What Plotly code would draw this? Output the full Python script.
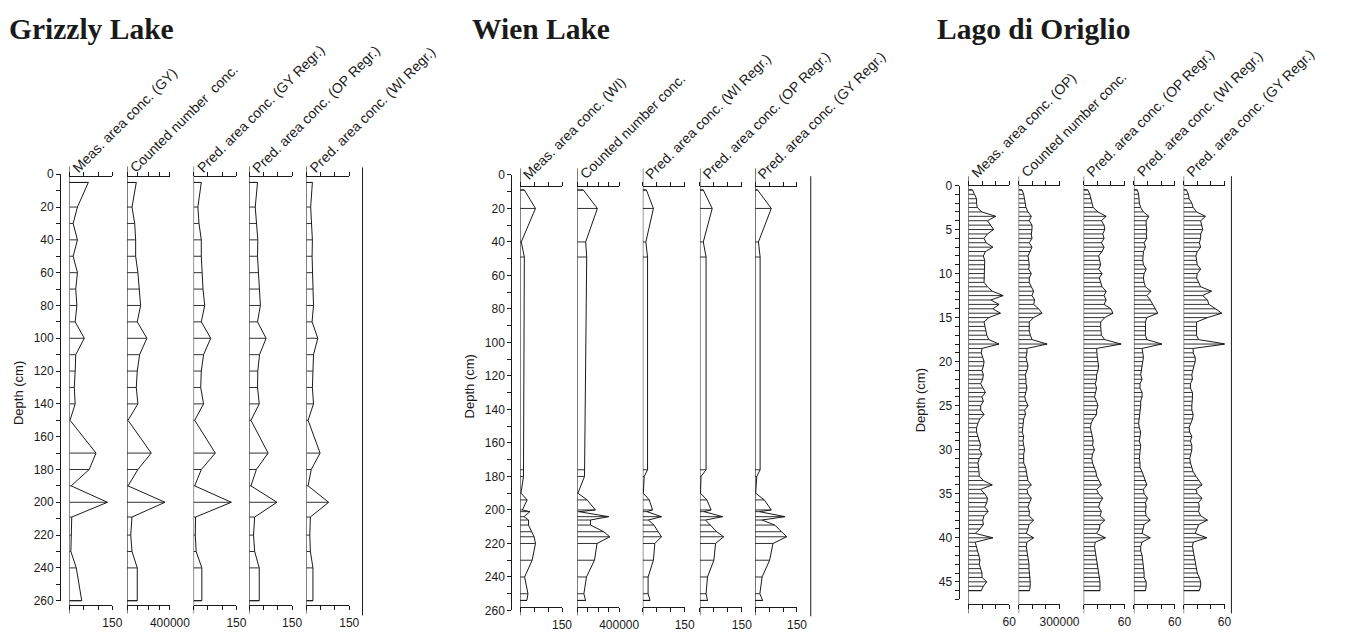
import plotly.graph_objects as go

W, H = 1345, 639
INK = "#1a1a1a"
SANS = "Liberation Sans, Arial, Helvetica, sans-serif"
SERIF = "Liberation Serif, Times New Roman, serif"

# ---------------- Grizzly Lake data ----------------
gy_depth = [5, 20, 30, 40, 50, 60, 70, 80, 90, 100, 110, 120, 130, 140, 150,
            170, 180, 190, 200, 209, 220, 230, 240, 260]
gy_meas = [66, 28, 13, 28, 13, 28, 22, 26, 20, 52, 22, 20, 17, 20, 2,
           93, 69, 6, 133, 8, 6, 5, 24, 43]
gy_counted = [86000, 46000, 71000, 80000, 80000, 101000, 117000, 126000, 95000, 185000,
              117000, 95000, 86000, 101000, 9000, 225000, 101000, 9000, 354000, 46000,
              34000, 46000, 95000, 95000]
gy_pred_gy = [27, 15, 19, 27, 27, 30, 33, 39, 27, 60, 35, 27, 25, 35, 4,
              76, 27, 4, 132, 7, 6, 9, 29, 29]
gy_pred_op = [29, 21, 25, 30, 29, 33, 35, 39, 29, 59, 36, 30, 29, 35, 6,
              66, 25, 6, 97, 19, 15, 19, 35, 35]
gy_pred_wi = [21, 15, 17, 21, 20, 21, 23, 25, 20, 40, 25, 23, 21, 25, 6,
              48, 17, 6, 78, 14, 12, 14, 23, 23]
gy_labels = ["Meas. area conc. (GY)", "Counted number  conc.", "Pred. area conc. (GY Regr.)",
             "Pred. area conc. (OP Regr.)", "Pred. area conc. (WI Regr.)"]
gy_max = [150, 400000, 150, 150, 150]
gy_max_text = ["150", "400000", "150", "150", "150"]

# ---------------- Wien Lake data ----------------
wi_depth = [9, 20, 40, 49, 176, 180, 190, 194, 200, 201, 204, 206, 209, 213, 216,
            220, 230, 240, 250, 254]
wi_meas = [15, 55, 4, 15, 10, 12, 3, 25, 8, 35, 14, 30, 30, 42, 50, 55, 43, 16, 28, 24]
wi_counted = [58000, 192000, 80000, 90000, 72000, 69000, 6000, 94000, 173000, 16000,
              299000, 126000, 126000, 252000, 310000, 189000, 164000, 88000, 63000, 79000]
wi_pred_wi = [13, 38, 11, 17, 17, 5, 2, 23, 35, 15, 67, 20, 40, 55, 67, 43, 38, 19, 19, 26]
wi_pred_op = [12, 44, 12, 22, 22, 4, 2, 25, 40, 15, 81, 20, 38, 60, 85, 56, 50, 27, 22, 27]
wi_pred_gy = [9, 58, 12, 18, 18, 6, 2, 33, 58, 15, 107, 25, 70, 95, 113, 64, 52, 25, 17, 27]
wi_labels = ["Meas. area conc. (WI)", "Counted number conc.", "Pred. area conc. (WI Regr.)",
             "Pred. area conc. (OP Regr.)", "Pred. area conc. (GY Regr.)"]
wi_max = [150, 400000, 150, 150, 150]
wi_max_text = ["150", "400000", "150", "150", "150"]

# ---------------- Lago di Origlio data ----------------
op_depth = [0.5, 1.0, 1.5, 2.0, 2.5, 3.0, 3.5, 4.0, 4.5, 5.0,
            5.5, 6.0, 6.5, 7.0, 7.5, 8.0, 8.5, 9.0, 9.5, 10.0,
            10.5, 11.0, 11.5, 12.0, 12.5, 13.0, 13.5, 14.0, 14.5, 15.0,
            15.5, 16.0, 16.5, 17.0, 17.5, 18.0, 18.5, 19.0, 19.5, 20.0,
            20.5, 21.0, 21.5, 22.0, 22.5, 23.0, 23.5, 24.0, 24.5, 25.0,
            25.5, 26.0, 26.5, 27.0, 27.5, 28.0, 28.5, 29.0, 29.5, 30.0,
            30.5, 31.0, 31.5, 32.0, 32.5, 33.0, 33.5, 34.0, 34.5, 35.0,
            35.5, 36.0, 36.5, 37.0, 37.5, 38.0, 38.5, 39.0, 39.5, 40.0,
            40.5, 41.0, 41.5, 42.0, 42.5, 43.0, 43.5, 44.0, 44.5, 45.0,
            45.5, 46.0]
op_meas = [6, 9, 12, 12, 13, 20, 40, 28, 33, 37,
           28, 23, 26, 36, 25, 22, 24, 24, 23, 23,
           24, 23, 28, 35, 51, 33, 45, 36, 47, 30,
           23, 24, 25, 27, 30, 45, 20, 19, 21, 23,
           22, 20, 22, 21, 18, 21, 25, 20, 22, 18,
           18, 23, 17, 14, 12, 12, 14, 17, 18, 16,
           20, 16, 14, 15, 15, 16, 22, 35, 18, 24,
           28, 27, 24, 29, 23, 21, 22, 17, 10, 36,
           10, 12, 13, 16, 17, 16, 18, 20, 20, 27,
           22, 19]
op_counted = [25000, 37000, 44000, 49000, 54000, 69000, 93000, 78000, 98000, 98000,
              93000, 98000, 78000, 98000, 86000, 69000, 74000, 78000, 74000, 93000,
              78000, 78000, 93000, 110000, 98000, 118000, 110000, 147000, 172000, 110000,
              78000, 78000, 78000, 86000, 98000, 209000, 61000, 61000, 54000, 61000,
              69000, 61000, 49000, 54000, 54000, 61000, 54000, 44000, 54000, 69000,
              44000, 51000, 37000, 32000, 27000, 27000, 37000, 32000, 37000, 44000,
              37000, 37000, 37000, 51000, 56000, 61000, 68000, 93000, 61000, 68000,
              93000, 80000, 68000, 80000, 76000, 110000, 76000, 68000, 56000, 110000,
              61000, 56000, 61000, 68000, 68000, 76000, 76000, 80000, 85000, 85000,
              85000, 80000]
op_pred_op = [6, 9, 11, 12, 14, 21, 33, 26, 30, 31,
              28, 30, 26, 30, 27, 22, 23, 25, 22, 27,
              23, 25, 27, 33, 30, 33, 30, 40, 43, 31,
              25, 25, 25, 26, 31, 55, 19, 19, 20, 21,
              22, 21, 19, 19, 17, 19, 17, 16, 19, 21,
              19, 19, 14, 11, 10, 11, 13, 14, 13, 16,
              13, 12, 13, 16, 18, 19, 22, 26, 19, 22,
              28, 24, 22, 26, 24, 31, 24, 23, 19, 32,
              17, 16, 17, 18, 19, 21, 21, 22, 23, 24,
              24, 24]
op_pred_wi = [5, 7, 7, 8, 10, 14, 22, 18, 18, 19,
              18, 19, 15, 17, 14, 13, 13, 14, 18, 15,
              14, 15, 17, 25, 19, 24, 28, 32, 35, 19,
              17, 17, 17, 17, 19, 41, 12, 13, 14, 13,
              12, 12, 10, 12, 9, 9, 12, 12, 10, 10,
              9, 8, 8, 7, 8, 10, 9, 8, 10, 9,
              8, 8, 9, 9, 12, 14, 17, 19, 14, 15,
              20, 17, 18, 17, 18, 24, 15, 14, 12, 24,
              12, 10, 10, 12, 13, 13, 14, 15, 15, 18,
              18, 17]
op_pred_gy = [4, 7, 8, 12, 14, 19, 32, 25, 27, 28,
              25, 25, 23, 25, 20, 18, 19, 20, 25, 20,
              19, 22, 25, 41, 28, 35, 37, 47, 56, 35,
              19, 19, 19, 19, 22, 62, 14, 14, 17, 17,
              15, 13, 12, 13, 10, 10, 13, 13, 12, 12,
              12, 14, 13, 10, 8, 9, 12, 10, 12, 12,
              10, 9, 10, 12, 14, 18, 22, 27, 18, 20,
              27, 22, 23, 22, 25, 35, 22, 19, 17, 34,
              14, 13, 14, 15, 17, 17, 19, 20, 23, 25,
              25, 23]
op_labels = ["Meas. area conc. (OP)", "Counted number conc.", "Pred. area conc. (OP Regr.)",
             "Pred. area conc. (WI Regr.)", "Pred. area conc. (GY Regr.)"]
op_max = [60, 300000, 60, 60, 60]
op_max_text = ["60", "300000", "60", "60", "60"]

# ---------------- layout geometry (pixels) ----------------
panels = [
    dict(title="Grizzly Lake", title_x=8, depth=gy_depth,
         cols=[gy_meas, gy_counted, gy_pred_gy, gy_pred_op, gy_pred_wi],
         labels=gy_labels, maxes=gy_max, max_text=gy_max_text, ndiv=[3, 4, 3, 3, 3],
         axis_x=61, d0_px=171, dref=260, dref_px=607, dmax=260, dtick=10, dlab=20,
         col_top=174, col_bot=611, base_top=163, base_bot=620, lab_y=175,
         col_x=[70.5, 129, 196.5, 253, 311], col_w=43.5,
         end_x=368, end_top=164, end_bot=622, ytitle=(19, 395)),
    dict(title="Wien Lake", title_x=478, depth=wi_depth,
         cols=[wi_meas, wi_counted, wi_pred_wi, wi_pred_op, wi_pred_gy],
         labels=wi_labels, maxes=wi_max, max_text=wi_max_text, ndiv=[3, 4, 3, 3, 3],
         axis_x=519, d0_px=171.7, dref=260, dref_px=617, dmax=260, dtick=10, dlab=20,
         col_top=184, col_bot=613, base_top=165, base_bot=622, lab_y=182,
         col_x=[528, 586, 652.5, 710.5, 766.5], col_w=42.5,
         end_x=823, end_top=173, end_bot=623, ytitle=(477, 388)),
    dict(title="Lago di Origlio", title_x=950, depth=op_depth,
         cols=[op_meas, op_counted, op_pred_op, op_pred_wi, op_pred_gy],
         labels=op_labels, maxes=op_max, max_text=op_max_text, ndiv=[3, 3, 3, 3, 3],
         axis_x=973, d0_px=182.5, dref=45, dref_px=587.7, dmax=47, dtick=1, dlab=5,
         col_top=183.3, col_bot=610, base_top=173, base_bot=620, lab_y=180,
         col_x=[983, 1034, 1100, 1151, 1201.5], col_w=41.5,
         end_x=1250, end_top=173, end_bot=620, ytitle=(934, 402)),
]


def px_x(px):
    return px / W


def px_y(py):
    return 1 - py / H


fig = go.Figure()
layout = dict(width=W, height=H, margin=dict(l=0, r=0, t=0, b=0),
              paper_bgcolor="white", plot_bgcolor="rgba(0,0,0,0)", showlegend=False)
shapes, annotations = [], []
xn = 0
yn = 0

for p in panels:
    scale = (p["dref_px"] - p["d0_px"]) / p["dref"]
    yn += 1
    yd = yn
    yn += 1
    yc = yn
    # depth axis
    ticks = []
    v = 0
    while v <= p["dmax"] + 1e-9:
        ticks.append(v)
        v += p["dtick"]
    tt = [str(int(t)) if t % p["dlab"] == 0 else "" for t in ticks]
    layout[f"yaxis{yd}"] = dict(
        domain=[px_y(p["d0_px"] + p["dmax"] * scale), px_y(p["d0_px"])],
        range=[p["dmax"], 0], anchor="free", position=px_x(p["axis_x"]),
        showline=True, linecolor=INK, linewidth=1, ticks="outside", ticklen=4,
        tickcolor=INK, tickvals=ticks, ticktext=tt, showgrid=False, zeroline=False,
        tickfont=dict(size=12, family=SANS, color=INK), fixedrange=True)
    # shared depth axis of the curve columns (same scale, hidden)
    d_top = (p["col_top"] - p["d0_px"]) / scale
    d_bot = (p["col_bot"] - p["d0_px"]) / scale
    layout[f"yaxis{yc}"] = dict(domain=[px_y(p["col_bot"]), px_y(p["col_top"])],
                                range=[d_bot, d_top], visible=False, showgrid=False,
                                zeroline=False, fixedrange=True)
    # hidden x axis that carries the depth-axis subplot
    xn += 1
    layout[f"xaxis{xn}"] = dict(domain=[px_x(p["axis_x"]), px_x(p["axis_x"] + 2)],
                                range=[0, 1], anchor=f"y{yd}", visible=False,
                                showgrid=False, zeroline=False, fixedrange=True)
    fig.add_trace(go.Scatter(x=[None], y=[None], xaxis=f"x{xn}", yaxis=f"y{yd}",
                             mode="lines", hoverinfo="skip"))
    for ci, vals in enumerate(p["cols"]):
        xn += 1
        vmax = p["maxes"][ci]
        nd = p["ndiv"][ci]
        tv = [vmax * k / nd for k in range(nd + 1)]
        tx = [""] * nd + [p["max_text"][ci]]
        bx = p["col_x"][ci]
        layout[f"xaxis{xn}"] = dict(
            domain=[px_x(bx), px_x(bx + p["col_w"])], range=[0, vmax], anchor=f"y{yc}",
            showline=True, linecolor=INK, linewidth=1, mirror="ticks",
            ticks="outside", ticklen=4, tickcolor=INK, tickvals=tv, ticktext=tx,
            showgrid=False, zeroline=False, ticklabelstandoff=3,
            tickfont=dict(size=12, family=SANS, color=INK), fixedrange=True)
        dep = p["depth"]
        # curve outline
        fig.add_trace(go.Scatter(
            x=[0] + list(vals) + [0], y=[dep[0]] + list(dep) + [dep[-1]],
            xaxis=f"x{xn}", yaxis=f"y{yc}", mode="lines",
            line=dict(color=INK, width=1), hoverinfo="skip"))
        # horizontal sample bars
        bxs, bys = [], []
        for d, val in zip(dep, vals):
            bxs += [0, val, None]
            bys += [d, d, None]
        fig.add_trace(go.Scatter(x=bxs, y=bys, xaxis=f"x{xn}", yaxis=f"y{yc}",
                                 mode="lines", line=dict(color=INK, width=0.9),
                                 hoverinfo="skip"))
        # column baseline (zero line extended beyond the axes)
        shapes.append(dict(type="line", xref=f"x{xn}", yref="paper", x0=0, x1=0,
                           y0=px_y(p["base_bot"]), y1=px_y(p["base_top"]),
                           line=dict(color=INK, width=1)))
        # rotated column label
        annotations.append(dict(
            text=p["labels"][ci], x=px_x(bx - 3), y=px_y(p["lab_y"]),
            xref="paper", yref="paper", xanchor="left", yanchor="bottom",
            textangle=-45, showarrow=False,
            font=dict(size=14, family=SANS, color=INK)))
    # closing line at the right of the panel
    shapes.append(dict(type="line", xref="paper", yref="paper",
                       x0=px_x(p["end_x"]), x1=px_x(p["end_x"]),
                       y0=px_y(p["end_bot"]), y1=px_y(p["end_top"]),
                       line=dict(color=INK, width=1)))
    # panel title
    annotations.append(dict(text=f"<b>{p['title']}</b>", x=px_x(p["title_x"] - 1), y=px_y(23),
                            xref="paper", yref="paper", xanchor="left", yanchor="middle",
                            showarrow=False, font=dict(size=29.5, family=SERIF, color=INK)))
    # depth axis title
    annotations.append(dict(text="Depth (cm)", x=px_x(p["ytitle"][0]), y=px_y(p["ytitle"][1]),
                            xref="paper", yref="paper", xanchor="center", yanchor="middle",
                            textangle=-90, showarrow=False,
                            font=dict(size=13, family=SANS, color=INK)))

layout["shapes"] = shapes
layout["annotations"] = annotations
fig.update_layout(**layout)
fig.write_html("out.html")
